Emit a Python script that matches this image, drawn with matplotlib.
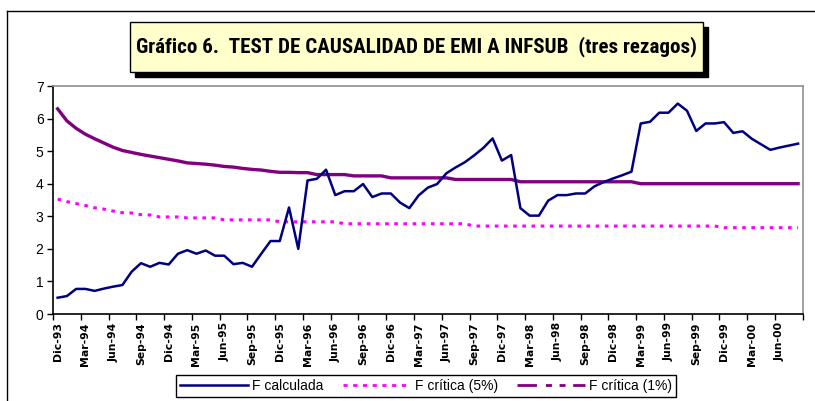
import matplotlib
matplotlib.use('Agg')
import matplotlib.pyplot as plt
from matplotlib.patches import Rectangle
from matplotlib.lines import Line2D
from matplotlib import font_manager
from matplotlib.font_manager import FontProperties
import numpy as np

# ---------------- data ----------------
month_names = ['Dic', 'Ene', 'Feb', 'Mar', 'Abr', 'May', 'Jun', 'Jul', 'Ago', 'Sep', 'Oct', 'Nov']
categories = []
for k in range(81):
    m = month_names[k % 12]
    yr = 93 + (k + 11) // 12
    categories.append(f"{m}-{yr % 100:02d}")

tick_labels = ['Dic-93', 'Mar-94', 'Jun-94', 'Sep-94', 'Dic-94', 'Mar-95', 'Jun-95', 'Sep-95',
               'Dic-95', 'Mar-96', 'Jun-96', 'Sep-96', 'Dic-96', 'Mar-97', 'Jun-97', 'Sep-97',
               'Dic-97', 'Mar-98', 'Jun-98', 'Sep-98', 'Dic-98', 'Mar-99', 'Jun-99', 'Sep-99',
               'Dic-99', 'Mar-00', 'Jun-00']

f_calculada = [0.50, 0.55, 0.77, 0.77, 0.71, 0.78, 0.84, 0.89, 1.30, 1.56,
               1.45, 1.57, 1.52, 1.85, 1.96, 1.85, 1.95, 1.79, 1.79, 1.53,
               1.57, 1.45, 1.85, 2.24, 2.24, 3.27, 2.00, 4.10, 4.15, 4.43,
               3.65, 3.77, 3.77, 3.99, 3.59, 3.70, 3.70, 3.42, 3.25, 3.64,
               3.88, 3.99, 4.32, 4.50, 4.66, 4.87, 5.10, 5.39, 4.71, 4.88,
               3.25, 3.02, 3.02, 3.48, 3.65, 3.65, 3.70, 3.70, 3.92, 4.05,
               4.16, 4.26, 4.37, 5.85, 5.90, 6.18, 6.18, 6.46, 6.24, 5.62,
               5.85, 5.85, 5.89, 5.56, 5.61, 5.38, 5.21, 5.04, 5.11, 5.17,
               5.23]

f_critica_5 = [3.53, 3.45, 3.39, 3.33, 3.26, 3.22, 3.16, 3.11, 3.10, 3.05,
               3.04, 2.98, 2.98, 2.98, 2.95, 2.95, 2.95, 2.95, 2.89, 2.89,
               2.89, 2.89, 2.89, 2.89, 2.83, 2.83, 2.83, 2.83, 2.83, 2.83,
               2.83, 2.77, 2.77, 2.77, 2.77, 2.77, 2.77, 2.77, 2.77, 2.77,
               2.77, 2.77, 2.77, 2.77, 2.77, 2.70, 2.70, 2.70, 2.70, 2.70,
               2.70, 2.70, 2.70, 2.70, 2.70, 2.70, 2.70, 2.70, 2.70, 2.70,
               2.70, 2.70, 2.70, 2.70, 2.70, 2.70, 2.70, 2.70, 2.70, 2.70,
               2.70, 2.70, 2.65, 2.65, 2.65, 2.65, 2.65, 2.65, 2.65, 2.65,
               2.65]

f_critica_1 = [6.30, 5.93, 5.70, 5.52, 5.38, 5.25, 5.12, 5.02, 4.96, 4.90,
               4.85, 4.80, 4.75, 4.70, 4.64, 4.62, 4.60, 4.57, 4.53, 4.51,
               4.47, 4.44, 4.42, 4.38, 4.35, 4.35, 4.34, 4.34, 4.28, 4.28,
               4.28, 4.28, 4.24, 4.24, 4.24, 4.24, 4.18, 4.18, 4.18, 4.18,
               4.18, 4.18, 4.18, 4.13, 4.13, 4.13, 4.13, 4.13, 4.13, 4.13,
               4.06, 4.06, 4.06, 4.06, 4.06, 4.06, 4.06, 4.06, 4.06, 4.06,
               4.06, 4.06, 4.06, 4.00, 4.00, 4.00, 4.00, 4.00, 4.00, 4.00,
               4.00, 4.00, 4.00, 4.00, 4.00, 4.00, 4.00, 4.00, 4.00, 4.00,
               4.00]

series_labels = ['F calculada', 'F crítica (5%)', 'F crítica (1%)']
title_text = 'Gráfico 6.  TEST DE CAUSALIDAD DE EMI A INFSUB  (tres rezagos)'

# ---------------- style ----------------
plt.rcParams['font.family'] = ['Liberation Sans', 'DejaVu Sans']
plt.rcParams['lines.scale_dashes'] = False

W, H, DPI = 815, 401, 100
fig = plt.figure(figsize=(W / DPI, H / DPI), dpi=DPI)
fig.patch.set_facecolor('white')

def fx(px):
    return px / W

def fy(py):
    return (H - py) / H

# outer chart frame (top and left visible)
fig.add_artist(Line2D([fx(7), fx(815)], [fy(11), fy(11)], color='black', lw=1.0,
                      transform=fig.transFigure))
fig.add_artist(Line2D([fx(7), fx(7)], [fy(11), fy(401)], color='black', lw=1.0,
                      transform=fig.transFigure))

# plot area
L, R, T, B = 53, 802.7, 86, 314
ax = fig.add_axes([fx(L), fy(B), fx(R) - fx(L), fy(T) - fy(B)])
x = np.arange(len(categories))

ax.plot(x, f_critica_5, color='#FF00FF', lw=2.2, dashes=(2.6, 4.0), solid_capstyle='butt',
        zorder=2)
ax.plot(x, f_critica_1, color='#800080', lw=2.4, zorder=3)
ax.plot(x, f_calculada, color='#000080', lw=1.8, zorder=4)

ax.set_xlim(-0.5, len(categories) - 0.5)
ax.set_ylim(0, 7)

for s in ['top', 'right']:
    ax.spines[s].set_color('#909090')
    ax.spines[s].set_linewidth(1.2)
for s in ['left', 'bottom']:
    ax.spines[s].set_color('black')
    ax.spines[s].set_linewidth(1.2)

ax.set_yticks(range(0, 8))
ax.set_yticklabels([str(v) for v in range(0, 8)])
ax.tick_params(axis='y', direction='out', length=4.3, width=1, pad=2.5, labelsize=10,
               colors='black')

ax.set_xticks(np.arange(-0.5, len(categories), 3))
ax.set_xticklabels([])
ax.tick_params(axis='x', which='major', direction='out', length=4.0, width=1)
ax.set_xticks(np.arange(0, len(categories), 3)[:len(tick_labels)], minor=True)
ax.set_xticklabels(tick_labels, minor=True, rotation=90, fontsize=7.8, fontweight='bold',
                   family=['DejaVu Sans'])
ax.tick_params(axis='x', which='minor', length=0, pad=6)

# ---------------- title box ----------------
bx0, bx1, by0, by1 = 130, 703, 22, 72
sh = 5
fig.add_artist(Rectangle((fx(bx0 + sh), fy(by1 + sh)), fx(bx1) - fx(bx0), fy(by0) - fy(by1),
                         transform=fig.transFigure, facecolor='black', edgecolor='black',
                         lw=1, zorder=5))
fig.add_artist(Rectangle((fx(bx0), fy(by1)), fx(bx1) - fx(bx0), fy(by0) - fy(by1),
                         transform=fig.transFigure, facecolor='#FFFFCC', edgecolor='black',
                         lw=1, zorder=6))


def _wnum(w):
    if isinstance(w, (int, float)):
        return w
    table = {'bold': 700, 'heavy': 800, 'black': 900, 'semibold': 600, 'demibold': 600,
             'demi': 600, 'extra bold': 800, 'ultrabold': 800}
    return table.get(str(w).lower(), 400)


def find_condensed_bold():
    prefs = ['Liberation Sans Narrow', 'Roboto Condensed', 'Open Sans Condensed',
             'DejaVu Sans Condensed', 'Noto Sans Condensed', 'DejaVu Sans']
    best = None
    for f in font_manager.fontManager.ttflist:
        cond = ('Narrow' in f.name or 'Condensed' in f.name or 'Condensed' in f.fname
                or str(f.stretch) in ('condensed', 'semi-condensed', 'extra-condensed'))
        if not cond or _wnum(f.weight) < 600 or str(f.style) != 'normal':
            continue
        rank = len(prefs)
        for i, p in enumerate(prefs):
            if f.name.startswith(p) or p.replace(' ', '') in f.fname.replace(' ', ''):
                rank = i
                break
        if best is None or rank < best[0]:
            best = (rank, f.fname)
    return best[1] if best else None


cfile = find_condensed_bold()
if cfile:
    tprops = FontProperties(fname=cfile, size=13)
else:
    tprops = FontProperties(family=['Liberation Sans', 'DejaVu Sans'], weight='bold', size=13)
ttl = fig.text(fx((bx0 + bx1) / 2), fy(47), title_text, ha='center', va='center',
               fontproperties=tprops, zorder=7)
fig.canvas.draw()
r = fig.canvas.get_renderer()
bb = ttl.get_window_extent(r)
target = 558.0
ttl.set_fontsize(13 * target / bb.width)

# ---------------- legend ----------------
h1 = Line2D([], [], color='#000080', lw=1.8)
h2 = Line2D([], [], color='#FF00FF', lw=2.0, dashes=(3.0, 4.0))
h3 = Line2D([], [], color='#800080', lw=2.0, dashes=(14.0, 6.5, 4.3, 5.5, 4.3, 5.5))
leg = fig.legend([h1, h2, h3], series_labels, loc='center',
                 bbox_to_anchor=(fx(426), fy(386)), ncol=3, frameon=True, fancybox=False,
                 edgecolor='black', framealpha=1, handlelength=4.9, handletextpad=0.3,
                 columnspacing=1.35, fontsize=10, borderpad=0.3, borderaxespad=0)
leg.get_frame().set_linewidth(1.0)

fig.savefig('out.png', dpi=DPI)
